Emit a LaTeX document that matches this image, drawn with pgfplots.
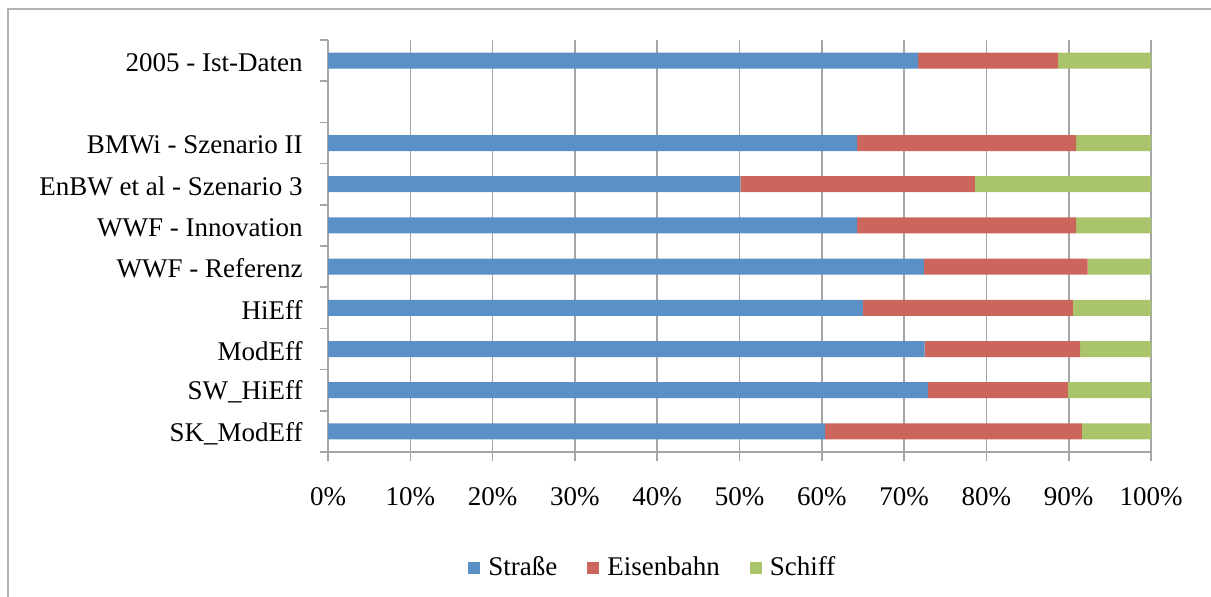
\documentclass[border=0pt]{standalone}
\usepackage{pgfplots}
\pgfplotsset{compat=1.18}
\usepackage{fontspec}
\setmainfont{Liberation Serif}
\definecolor{cBlue}{RGB}{91,144,199}
\definecolor{cRed}{RGB}{204,102,92}
\definecolor{cGreen}{RGB}{170,196,108}
\definecolor{cGrid}{RGB}{165,165,165}
\pgfplotstableread{
y S E C
9 71.7 17.0 11.3
7 64.3 26.6 9.1
6 50.1 28.5 21.4
5 64.3 26.6 9.1
4 72.4 19.9 7.7
3 65.0 25.5 9.5
2 72.5 18.9 8.6
1 72.9 17.0 10.1
0 60.4 31.2 8.4
}\datatable
\begin{document}
\fontsize{13.5}{16}\selectfont
\begin{tikzpicture}
\useasboundingbox (0,0) rectangle (605.5pt,-298pt);
\draw[gray!60, line width=1.2pt] (4pt,-300pt) -- (4pt,-4.5pt) -- (607pt,-4.5pt);
\begin{axis}[
  at={(164pt,-226pt)}, anchor=south west,
  width=411.5pt, height=206pt, scale only axis,
  xbar stacked, bar width=8pt,
  xmin=0, xmax=100, ymin=-0.5, ymax=9.5,
  axis lines=left, axis line style={-, draw=cGrid, line width=0.8pt},
  xtick={0,10,...,100},
  xticklabels={0\%,10\%,20\%,30\%,40\%,50\%,60\%,70\%,80\%,90\%,100\%},
  xmajorgrids, major grid style={draw=cGrid, line width=0.8pt},
  ytick={0,...,9},
  yticklabels={SK\_ModEff,SW\_HiEff,ModEff,HiEff,WWF - Referenz,WWF - Innovation,EnBW et al - Szenario 3,BMWi - Szenario II,,2005 - Ist-Daten},
  minor ytick={-0.5,0.5,...,9.5},
  tick align=outside,
  major tick length=4.5pt, minor tick length=4pt,
  x tick style={draw=cGrid, line width=0.8pt},
  major y tick style={draw=none},
  minor y tick style={draw=cGrid, line width=0.8pt},
  xticklabel style={anchor=center, inner sep=0pt, yshift=-18pt},
  yticklabel style={anchor=east, inner sep=0pt, xshift=-8pt, yshift=-1pt},
  tick label style={font=\fontsize{13.5}{16}\selectfont},
  legend style={at={(0.396,-0.2816)}, anchor=center, draw=none, legend columns=3,
    font=\fontsize{13.5}{16}\selectfont,
    /tikz/every even column/.append style={column sep=13pt}},
  legend image code/.code={\fill[#1,draw=none] (0pt,-3pt) rectangle (6pt,3pt); \path (8pt,0pt);},
]
\addplot[fill=cBlue, draw=none] table[x=S, y=y] {\datatable};
\addplot[fill=cRed, draw=none] table[x=E, y=y] {\datatable};
\addplot[fill=cGreen, draw=none] table[x=C, y=y] {\datatable};
\legend{Straße, Eisenbahn, Schiff}
\end{axis}
\end{tikzpicture}
\end{document}
